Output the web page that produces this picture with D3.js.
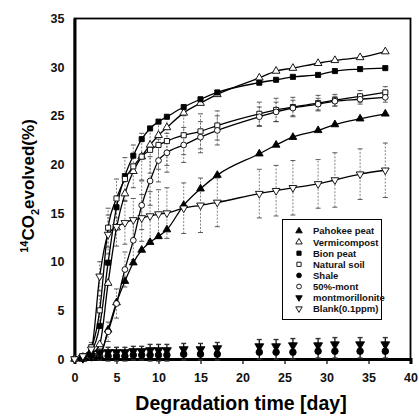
<!DOCTYPE html>
<html>
<head>
<meta charset="utf-8">
<script src="https://cdn.jsdelivr.net/npm/d3@7"></script>
<style>
  body { margin: 0; background: #fff; }
  svg { display: block; font-family: Arial, "Liberation Sans", sans-serif; }
</style>
</head>
<body>
<svg id="chart" width="419" height="418"></svg>
<script>
// sampling days
const days = [0, 1, 2, 3, 4, 5, 6, 7, 8, 9, 10, 11, 13, 15, 17, 22, 24, 26, 29, 31, 34, 37];

// % 14CO2 evolved per treatment
const pahokee   = [0, 0, 0.1, 0.3, 3.0, 5.8, 8.0, 9.9, 11.2, 12.0, 12.6, 13.3, 15.8, 17.5, 18.9, 21.1, 22.0, 22.8, 23.5, 24.1, 24.7, 25.2];
const vermi     = [0, 0.2, 0.5, 1.5, 7.8, 13.5, 17.0, 19.3, 20.8, 22.0, 23.0, 23.8, 25.3, 26.3, 27.2, 28.9, 29.6, 29.9, 30.4, 30.7, 31.0, 31.6];
const bion      = [0, 0.2, 0.8, 3.4, 9.9, 15.6, 18.8, 20.9, 22.6, 23.7, 24.4, 24.9, 25.9, 26.7, 27.4, 28.4, 28.7, 29.0, 29.2, 29.6, 29.8, 29.9];
const natSoil   = [0, 0.3, 1.2, 5.0, 13.5, 16.5, 18.5, 19.8, 20.8, 21.5, 22.0, 22.4, 23.0, 23.4, 24.0, 25.2, 25.6, 25.9, 26.3, 26.6, 27.0, 27.4];
const shale     = [0, 0.1, 0.2, 0.3, 0.3, 0.3, 0.3, 0.4, 0.4, 0.4, 0.4, 0.4, 0.5, 0.5, 0.5, 0.7, 0.7, 0.7, 0.8, 0.8, 0.8, 0.8];
const mont50    = [0, 0, 0.2, 0.5, 2.8, 5.7, 9.2, 12.2, 15.8, 18.3, 20.4, 21.2, 22.0, 22.8, 23.5, 24.9, 25.4, 25.8, 26.2, 26.5, 26.7, 26.9];
const mont      = [0, 0.1, 0.3, 0.6, 0.7, 0.7, 0.7, 0.8, 0.8, 0.9, 0.9, 0.9, 1.0, 1.0, 1.1, 1.3, 1.3, 1.4, 1.4, 1.5, 1.5, 1.5];
const blank     = [0, 0.3, 1.0, 8.5, 12.8, 13.6, 14.0, 14.3, 14.5, 14.7, 14.9, 15.0, 15.5, 15.8, 16.1, 17.0, 17.3, 17.6, 18.0, 18.4, 19.0, 19.4];

// error bar half-widths
const natSoilErr = [0, 0.2, 0.5, 1.5, 2.0, 2.0, 2.2, 2.2, 2.4, 2.4, 2.5, 2.5, 2.0, 1.8, 1.5, 1.2, 1.2, 1.0, 0.8, 0.6, 0.6, 0.6];
const mont50Err  = [0, 0, 0.2, 0.5, 1.0, 1.5, 1.8, 2.0, 2.5, 2.5, 2.2, 2.0, 1.8, 1.6, 1.5, 1.0, 1.0, 0.8, 0.6, 0.5, 0.5, 0.5];
const blankErr   = [0, 0.2, 0.5, 1.5, 2.0, 2.0, 2.2, 2.2, 2.4, 2.5, 2.5, 2.6, 2.6, 2.8, 2.5, 2.5, 2.6, 2.8, 2.5, 2.8, 2.6, 2.8];
const bottomErr  = [0, 0, 0.2, 0.4, 0.5, 0.5, 0.5, 0.5, 0.5, 0.6, 0.6, 0.6, 0.6, 0.6, 0.6, 0.7, 0.7, 0.7, 0.7, 0.7, 0.7, 0.7];

const xTicks = [0, 5, 10, 15, 20, 25, 30, 35, 40];
const yTicks = [0, 5, 10, 15, 20, 25, 30, 35];

const seriesList = [
  { name: "Pahokee peat",    values: pahokee, symbol: d3.symbolTriangle, fill: "#000", line: true },
  { name: "Vermicompost",    values: vermi,   symbol: d3.symbolTriangle, fill: "#fff", line: true },
  { name: "Bion peat",       values: bion,    symbol: d3.symbolSquare,   fill: "#000", line: true },
  { name: "Natural soil",    values: natSoil, symbol: d3.symbolSquare,   fill: "#fff", line: true, err: natSoilErr },
  { name: "Shale",           values: shale,   symbol: d3.symbolCircle,   fill: "#000", line: false, err: bottomErr },
  { name: "50%-mont",        values: mont50,  symbol: d3.symbolCircle,   fill: "#fff", line: true, err: mont50Err },
  { name: "montmorillonite", values: mont,    symbol: d3.symbolTriangle, fill: "#000", line: false, flip: true, err: bottomErr },
  { name: "Blank(0.1ppm)",   values: blank,   symbol: d3.symbolTriangle, fill: "#fff", line: true, flip: true, err: blankErr }
];

const svg = d3.select("#chart");
const x = d3.scaleLinear().domain([0, 40]).range([74.5, 410.5]);
const y = d3.scaleLinear().domain([0, 35]).range([359, 18.5]);

// frame
svg.append("rect")
  .attr("x", x(0)).attr("y", y(35))
  .attr("width", x(40) - x(0)).attr("height", y(0) - y(35))
  .attr("fill", "none").attr("stroke", "#000").attr("stroke-width", 1.8);

// axes
const xAxis = svg.append("g")
  .attr("transform", `translate(0,${y(0)})`)
  .call(d3.axisBottom(x).tickValues(xTicks).tickSize(5).tickPadding(9));
const yAxis = svg.append("g")
  .attr("transform", `translate(${x(0)},0)`)
  .call(d3.axisLeft(y).tickValues(yTicks).tickSize(0).tickPadding(10));

[xAxis, yAxis].forEach(a => {
  a.select(".domain").attr("stroke", "#000").attr("stroke-width", 3);
  a.selectAll("text").attr("font-size", 12.5).attr("font-weight", "bold")
    .attr("font-family", "Arial, 'Liberation Sans', sans-serif").attr("fill", "#111");
  a.selectAll("line").attr("stroke-width", 1.2);
});

// error bars
const gErr = svg.append("g");
seriesList.filter(s => s.err).forEach(s => {
  days.forEach((d, i) => {
    const e = s.err[i];
    if (!e) return;
    const cx = x(d);
    gErr.append("line")
      .attr("x1", cx).attr("x2", cx)
      .attr("y1", y(s.values[i] - e)).attr("y2", y(s.values[i] + e))
      .attr("stroke", s.line ? "#666" : "#000").attr("stroke-width", s.line ? 0.8 : 1.2)
      .attr("stroke-dasharray", s.line ? "2,1.5" : null);
    [s.values[i] - e, s.values[i] + e].forEach(v => {
      gErr.append("line")
        .attr("x1", cx - 2.5).attr("x2", cx + 2.5)
        .attr("y1", y(v)).attr("y2", y(v))
        .attr("stroke", "#333").attr("stroke-width", s.line ? 0.8 : 1.4);
    });
  });
});

// curves
const line = d3.line()
  .x((v, i) => x(days[i]))
  .y(v => y(v))
  .curve(d3.curveMonotoneX);

svg.append("g").selectAll("path")
  .data(seriesList.filter(s => s.line))
  .join("path")
  .attr("d", s => line(s.values))
  .attr("fill", "none")
  .attr("stroke", "#000")
  .attr("stroke-width", 1.3);

// markers
const drawMarker = (g, s, cx, cy, size) => {
  g.append("path")
    .attr("d", d3.symbol().type(s.symbol).size(size)())
    .attr("transform", `translate(${cx},${cy})` + (s.flip ? " rotate(180)" : ""))
    .attr("fill", s.fill)
    .attr("stroke", "#000")
    .attr("stroke-width", 0.9);
};

const gPts = svg.append("g");
seriesList.forEach(s => {
  days.forEach((d, i) => {
    if (d === 0 && s.fill === "#000") return;
    const size = s.line ? 26 : 34;
    drawMarker(gPts, s, x(d), y(s.values[i]), size);
  });
});

// legend
const leg = svg.append("g").attr("transform", "translate(282.5,219.5)");
leg.append("rect")
  .attr("width", 99).attr("height", 100)
  .attr("fill", "#fff").attr("stroke", "#000").attr("stroke-width", 1);
seriesList.forEach((s, i) => {
  const ly = 11.5 + i * 11.1;
  drawMarker(leg, s, 16.5, ly, 18);
  leg.append("text")
    .attr("x", 30.5).attr("y", ly + 3.4)
    .attr("font-size", 9.5).attr("font-weight", "bold")
    .attr("fill", "#111")
    .text(s.name);
});

// axis titles
svg.append("text")
  .attr("x", 241).attr("y", 410)
  .attr("text-anchor", "middle")
  .attr("font-size", 19.5).attr("font-weight", "bold")
  .text("Degradation time [day]");

const yt = svg.append("text")
  .attr("transform", "translate(34,186) rotate(-90)")
  .attr("text-anchor", "middle")
  .attr("font-size", 17).attr("font-weight", "bold");
yt.append("tspan").attr("font-size", 11).attr("dy", -6).text("14");
yt.append("tspan").attr("dy", 6).text("CO");
yt.append("tspan").attr("font-size", 11).attr("dy", 5).text("2");
yt.append("tspan").attr("dy", -5).text("evolved(%)");
</script>
</body>
</html>
